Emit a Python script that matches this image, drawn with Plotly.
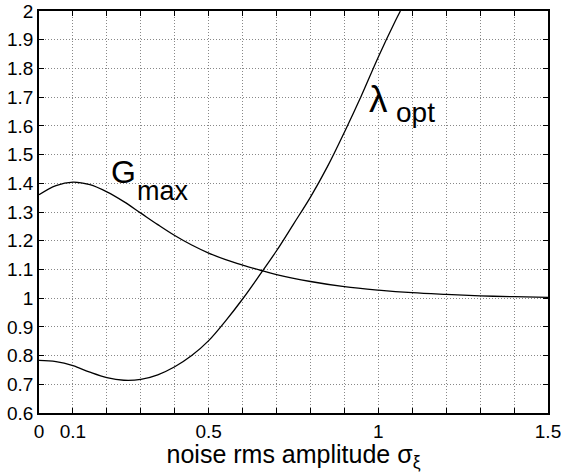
import plotly.graph_objects as go

# Data
sigma_g = [0, 0.05, 0.1, 0.15, 0.2, 0.25, 0.3, 0.35, 0.4, 0.45, 0.5, 0.55, 0.6, 0.65,
           0.7, 0.8, 0.9, 1.0, 1.1, 1.2, 1.3, 1.4, 1.5]
g_max = [1.36, 1.392, 1.404, 1.395, 1.370, 1.336, 1.296, 1.256, 1.218, 1.185, 1.157,
         1.134, 1.115, 1.098, 1.082, 1.058, 1.040, 1.028, 1.019, 1.013, 1.008, 1.005, 1.003]

sigma_l = [0, 0.05, 0.1, 0.15, 0.2, 0.25, 0.3, 0.35, 0.4, 0.45, 0.5, 0.55, 0.6, 0.65,
           0.7, 0.75, 0.8, 0.85, 0.9, 0.95, 1.0, 1.05, 1.065]
lam_opt = [0.783, 0.779, 0.765, 0.742, 0.723, 0.714, 0.717, 0.733, 0.761, 0.800, 0.852,
           0.921, 0.997, 1.08, 1.165, 1.258, 1.352, 1.458, 1.578, 1.705, 1.84, 1.965, 2.0]

x_tickvals = [round(0.1 * i, 1) for i in range(16)]
x_ticktext = ["0", "0.1", "", "", "", "0.5", "", "", "", "", "1", "", "", "", "", "1.5"]
y_tickvals = [round(0.6 + 0.1 * i, 1) for i in range(15)]
y_ticktext = ["0.6", "0.7", "0.8", "0.9", "1", "1.1", "1.2", "1.3", "1.4", "1.5",
              "1.6", "1.7", "1.8", "1.9", "2"]

FONT = "Liberation Sans, Arial, Helvetica, sans-serif"

fig = go.Figure()
fig.add_trace(go.Scatter(x=sigma_g, y=g_max, mode="lines",
                         line=dict(color="black", width=1.3, shape="spline", smoothing=1),
                         showlegend=False))
fig.add_trace(go.Scatter(x=sigma_l, y=lam_opt, mode="lines",
                         line=dict(color="black", width=1.3, shape="spline", smoothing=1),
                         showlegend=False))

axis_common = dict(showline=True, linecolor="black", linewidth=1.5, mirror="ticks",
                   ticks="inside", ticklen=5, tickcolor="black", tickwidth=1,
                   showgrid=True, gridcolor="#888888", griddash="1px,2px", gridwidth=1,
                   zeroline=False, ticklabeloverflow="allow", automargin=False,
                   tickfont=dict(family=FONT, size=19, color="black"))

fig.update_xaxes(range=[0, 1.5], tickmode="array", tickvals=x_tickvals, ticktext=x_ticktext,
                 title=dict(text="noise rms amplitude σ<sub>ξ</sub>",
                            font=dict(family=FONT, size=25, color="black"), standoff=5),
                 **axis_common)
fig.update_yaxes(range=[0.6, 2.0], tickmode="array", tickvals=y_tickvals, ticktext=y_ticktext,
                 **axis_common)

# Curve labels: main symbol and subscript as separate texts
fig.add_annotation(x=0.205, y=1.439, xref="x", yref="y", text="G",
                   showarrow=False, xanchor="left", yanchor="middle",
                   font=dict(family=FONT, size=32, color="black"))
fig.add_annotation(x=0.282, y=1.373, xref="x", yref="y", text="max",
                   showarrow=False, xanchor="left", yanchor="middle",
                   font=dict(family=FONT, size=27, color="black"))
fig.add_annotation(x=0.968, y=1.692, xref="x", yref="y", text="λ",
                   showarrow=False, xanchor="left", yanchor="middle",
                   font=dict(family=FONT, size=37, color="black"))
fig.add_annotation(x=1.047, y=1.648, xref="x", yref="y", text="opt",
                   showarrow=False, xanchor="left", yanchor="middle",
                   font=dict(family=FONT, size=28, color="black"))

fig.update_layout(width=561, height=472, margin=dict(l=39, r=13, t=11, b=59),
                  plot_bgcolor="white", paper_bgcolor="white")

fig.write_html("out.html")
